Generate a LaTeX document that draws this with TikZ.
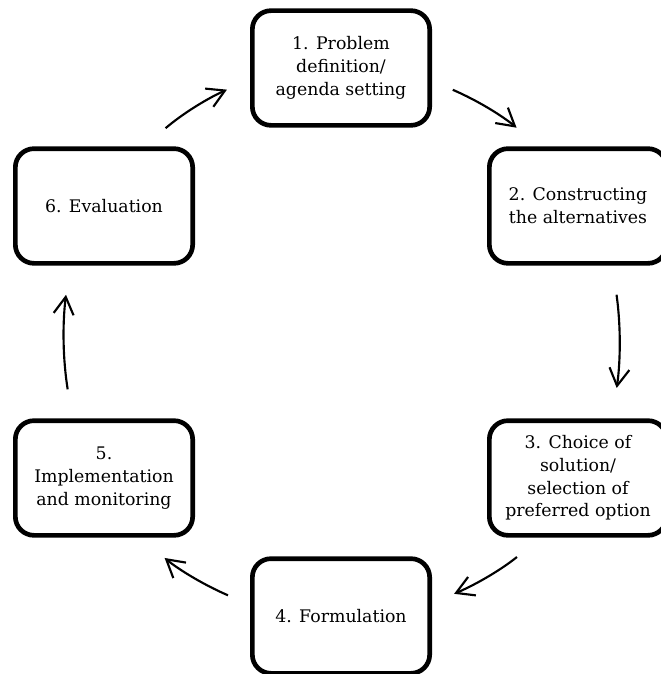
\documentclass[tikz,border=0pt]{standalone}
\usepackage{fontspec}
\setmainfont{DejaVu Serif}
\usetikzlibrary{arrows.meta,positioning}

\begin{document}
\begin{tikzpicture}[
  x=0.75pt, y=-0.75pt,
  font=\fontsize{13}{17}\selectfont,
  stage/.style={rectangle, rounded corners=14pt, draw=black, line width=3.5pt,
    minimum width=133pt, minimum height=86pt, align=center, inner sep=2pt},
  cycle/.style={line width=1.6pt, -{Straight Barb[length=13pt, width=15pt]}, bend left=8}
]
\useasboundingbox (0,0) rectangle (660,674);

\node[stage] (b1) at (341,68) {1. Problem\\definition/\\agenda setting};
\node[stage] (b2) at (578,206) {2. Constructing\\the alternatives};
\node[stage] (b3) at (578,478) {3. Choice of\\solution/\\selection of\\preferred option};
\node[stage] (b4) at (341,616) {4. Formulation};
\node[stage] (b5) at (104,478) {5.\\Implementation\\and monitoring};
\node[stage] (b6) at (104,206) {6. Evaluation};

% clockwise arrows between the stages
\draw[cycle, shorten <=17pt, shorten >=22pt] (b1.-8) to (b2.123);
\draw[cycle, shorten <=22pt, shorten >=23pt] (b2.-60) to (b3.60);
\draw[cycle, shorten <=23pt, shorten >=18pt] (b3.-122) to (b4.8);
\draw[cycle, shorten <=18pt, shorten >=24pt] (b4.173) to (b5.-59);
\draw[cycle, shorten <=22pt, shorten >=22pt] (b5.118) to (b6.-120);
\draw[cycle, shorten <=21pt, shorten >=19pt] (b6.56) to (b1.-173);
\end{tikzpicture}
\end{document}
